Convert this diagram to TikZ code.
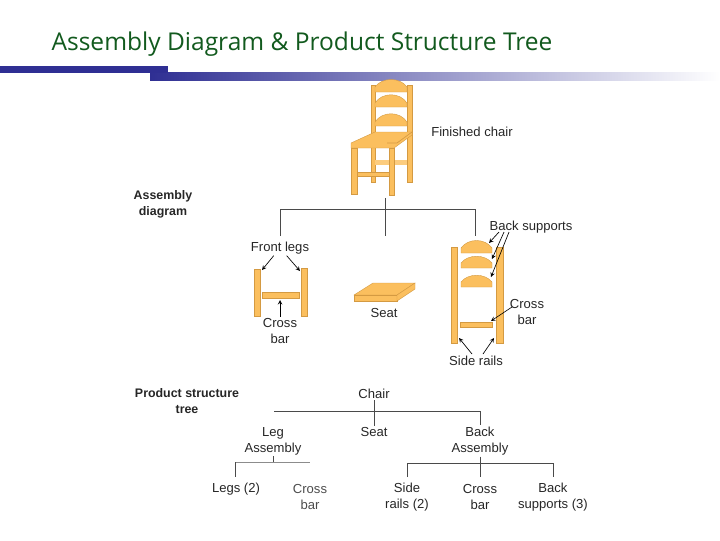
\documentclass[tikz,border=0pt]{standalone}
\usepackage{fontspec}
\setmainfont{Liberation Sans}
\newfontfamily\titlefont{Open Sans}
\definecolor{partfill}{HTML}{FBBF5E}
\definecolor{partline}{HTML}{D49A42}
\definecolor{navybar}{HTML}{2F2F93}
\definecolor{titlegreen}{HTML}{125A1E}
\definecolor{treeline}{HTML}{4A4A4A}
\tikzset{
  part/.style={fill=partfill,draw=partline,line width=0.3pt},
  treeedge/.style={draw=treeline,line width=0.75pt},
  callout/.style={-stealth,line width=0.5pt,black},
  lbl/.style={font=\fontsize{9.8}{12}\selectfont,align=center,inner sep=1pt,text=black!85},
  boldlbl/.style={font=\fontsize{9.3}{12}\selectfont\bfseries,align=center,inner sep=1pt,text=black!85}
}
\begin{document}
\begin{tikzpicture}[x=0.75pt,y=0.75pt,yscale=-1]
\useasboundingbox (0,0) rectangle (720,540);

%Title
\node [font=\titlefont\fontsize{18.4}{20}\selectfont,text=titlegreen,inner sep=0pt] (title) at (302,44) {Assembly Diagram \& Product Structure Tree};

%Bars
\shade [left color=navybar,right color=white] (150,72) -- (720,72) -- (720,80) -- (150,80) -- cycle ;
\fill [navybar] (0,66) -- (168,66) -- (168,73) -- (0,73) -- cycle ;

%Finished chair: back posts
\draw [part] (371,85) -- (375,85) -- (375,182) -- (371,182) -- cycle ;
\draw [part] (407,85) -- (412,85) -- (412,182) -- (407,182) -- cycle ;
%Back cross bar
\fill [partfill!80!white] (375,160) -- (407,160) -- (407,165) -- (375,165) -- cycle ;
%Back supports
\draw [part] (375,92) -- (375,87) .. controls (382,77) and (400,77) .. (407,87) -- (407,92) -- cycle ;
\draw [part] (375,107) -- (375,103) .. controls (382,92) and (400,92) .. (407,103) -- (407,107) -- cycle ;
\draw [part] (375,126) -- (375,122) .. controls (382,111) and (400,111) .. (407,122) -- (407,126) -- cycle ;
%Seat
\draw [part] (351,143) -- (375,132) -- (412,132) -- (412,135) -- (394,148) -- (351,148) -- cycle ;
\draw [partline,line width=0.5pt] (387,143) -- (397,143) -- (412,132) ;
%Front legs
\draw [part] (351,148) -- (357,148) -- (357,194) -- (351,194) -- cycle ;
\draw [part] (389,148) -- (394,148) -- (394,195) -- (389,195) -- cycle ;
\draw [part] (357,172) -- (389,172) -- (389,176) -- (357,176) -- cycle ;

%Text Node
\node [lbl] (finished) at (472,132) {Finished chair};
\node [boldlbl] (asmdiag) at (163,204) {Assembly\\diagram};

%Assembly lines
\coordinate (asmtop) at (385,198);
\coordinate (asmmid) at (385,209);
\coordinate (asmleft) at (280,209);
\coordinate (asmright) at (475,209);
\coordinate (asmleftend) at (280,236);
\coordinate (asmmidend) at (385,236);
\coordinate (asmrightend) at (475,236);
\draw [treeedge] (asmtop) -- (asmmidend) ;
\draw [treeedge] (asmleftend) -- (asmleft) -- (asmright) -- (asmrightend) ;

%Front legs part
\draw [part] (254,269) -- (260,269) -- (260,316) -- (254,316) -- cycle ;
\draw [part] (301,268) -- (307,268) -- (307,316) -- (301,316) -- cycle ;
\draw [part] (262,292) -- (299,292) -- (299,298) -- (262,298) -- cycle ;
\node [lbl] (frontlegs) at (280,248) {Front legs};
\node [lbl] (legbar) at (280,331) {Cross\\bar};
\coordinate (legtipl) at (262,270);
\coordinate (legtipr) at (300,271);
\coordinate (legbartip) at (280,300);
\draw [callout] (frontlegs) -- (legtipl) ;
\draw [callout] (frontlegs) -- (legtipr) ;
\draw [callout] (legbar) -- (legbartip) ;

%Seat part
\draw [part] (354,295) -- (373,283) -- (415,283) -- (397,295) -- cycle ;
\draw [part] (354,295) -- (397,295) -- (397,301) -- (354,301) -- cycle ;
\draw [part] (397,295) -- (415,283) -- (415,289) -- (397,301) -- cycle ;
\node [lbl] (seatlbl) at (384,313) {Seat};

%Back part
\draw [part] (451,247) -- (457,247) -- (457,343) -- (451,343) -- cycle ;
\draw [part] (496,247) -- (503,247) -- (503,343) -- (496,343) -- cycle ;
\draw [part] (461,253) -- (461,248) .. controls (468,238) and (485,238) .. (492,248) -- (492,253) -- cycle ;
\draw [part] (461,268) -- (461,263) .. controls (468,254) and (485,254) .. (492,263) -- (492,268) -- cycle ;
\draw [part] (461,287) -- (461,282) .. controls (468,273) and (485,273) .. (492,282) -- (492,287) -- cycle ;
\draw [part] (460,322) -- (492,322) -- (492,327) -- (460,327) -- cycle ;
\node [lbl] (backsup) at (531,227) {Back supports};
\node [lbl] (backbar) at (527,312) {Cross\\bar};
\node [lbl] (rails) at (476,361) {Side rails};
\coordinate (bsfrom1) at (499,232);
\coordinate (bsfrom2) at (504,232);
\coordinate (bsfrom3) at (509,232);
\coordinate (bstip1) at (489,243);
\coordinate (bstip2) at (492,259);
\coordinate (bstip3) at (491,277);
\coordinate (barfrom) at (512,307);
\coordinate (bartip) at (491,321);
\coordinate (railfroml) at (472,354);
\coordinate (railfromr) at (483,354);
\coordinate (railtipl) at (459,338);
\coordinate (railtipr) at (494,338);
\draw [callout] (bsfrom1) -- (bstip1) ;
\draw [callout] (bsfrom2) -- (bstip2) ;
\draw [callout] (bsfrom3) -- (bstip3) ;
\draw [callout] (barfrom) -- (bartip) ;
\draw [callout] (railfroml) -- (railtipl) ;
\draw [callout] (railfromr) -- (railtipr) ;

%Product structure tree
\node [boldlbl] (pstree) at (187,401.5) {Product structure\\tree};
\node [lbl] (chair) at (374,394) {Chair};
\node [lbl] (seat) at (374,432) {Seat};
\node [lbl] (legasm) at (273,441) {Leg\\Assembly};
\node [lbl] (backasm) at (480,441) {Back\\Assembly};
\node [lbl] (legs) at (236,489) {Legs (2)};
\node [lbl,text=black!70] (tleg) at (310,496.5) {Cross\\bar};
\node [lbl] (siderails) at (407,497) {Side\\rails (2)};
\node [lbl] (tback) at (480,496.5) {Cross\\bar};
\node [lbl] (supports) at (553,497) {Back\\supports (3)};

\coordinate (chairjoin) at (374,411);
\coordinate (treeleft) at (274,411);
\coordinate (treeright) at (480,411);
\coordinate (legjoin) at (273,462);
\coordinate (legleft) at (235,462);
\coordinate (legright) at (310,462);
\coordinate (backjoin) at (480,463);
\coordinate (backleft) at (407,463);
\coordinate (backright) at (553,463);
\coordinate (legsend) at (235,477);
\coordinate (sideend) at (407,477);
\coordinate (midend) at (480,477);
\coordinate (supend) at (553,477);

\draw [treeedge] (chair) -- (seat) ;
\draw [treeedge] (treeleft) -- (treeright) -- (backasm) ;
\draw [treeedge,line width=0.5pt] (legasm) -- (legjoin) ;
\draw [draw=black!45,line width=0.5pt] (legleft) -- (legright) ;
\draw [treeedge,line width=0.5pt] (legleft) -- (legsend) ;
\draw [treeedge] (backasm) -- (midend) ;
\draw [treeedge] (sideend) -- (backleft) -- (backright) -- (supend) ;
\end{tikzpicture}
\end{document}
